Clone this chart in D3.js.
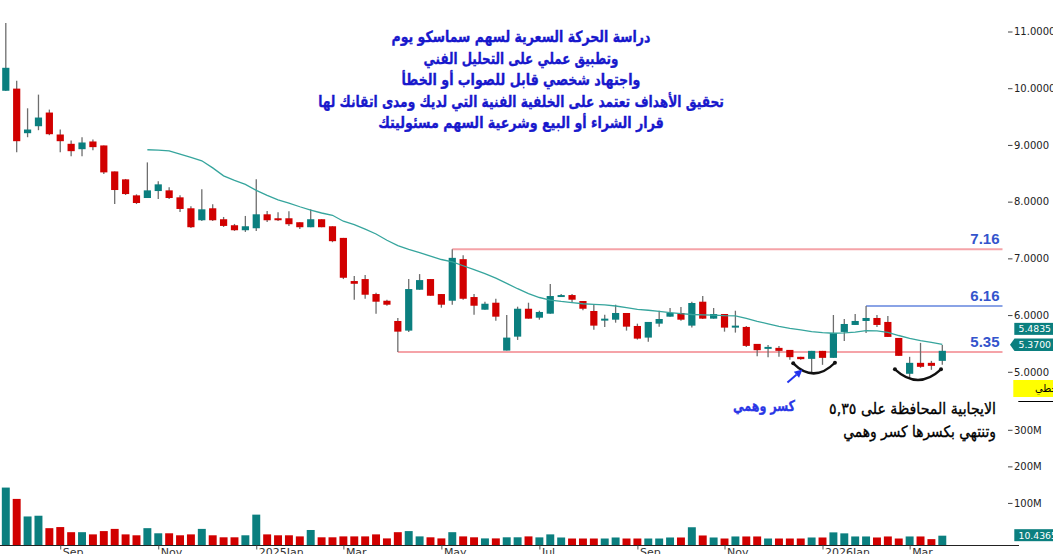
<!DOCTYPE html>
<html><head><meta charset="utf-8">
<script src="https://cdn.jsdelivr.net/npm/d3@7"></script>
<style>html,body{margin:0;padding:0;background:#fff;overflow:hidden}</style>
</head><body><svg id="c" width="1053" height="554"></svg>
<script>
// ---------- DATA ----------
const firstWeek = "2024-07-28";
const openP  = [9.955,9.993,9.207,9.330,9.571,9.184,9.020,8.925,9.061,8.991,8.533,8.393,8.111,8.064,8.187,8.199,8.076,7.883,7.672,7.883,7.690,7.584,7.496,7.531,7.777,7.707,7.707,7.637,7.549,7.690,7.566,7.361,6.600,6.635,6.371,6.253,5.896,5.726,6.447,6.635,6.371,6.253,6.986,6.318,6.095,6.218,5.374,5.620,6.112,5.954,6.025,6.318,6.353,6.248,6.072,5.902,5.919,6.037,5.808,5.603,5.849,5.972,6.037,5.814,6.236,5.937,6.019,5.779,5.791,5.492,5.404,5.422,5.386,5.264,5.228,5.369,5.246,5.703,5.826,5.896,5.949,5.879,5.597,4.965,5.158,5.158,5.193];
const highP  = [11.15,10.133,9.646,9.887,9.623,9.272,9.078,9.136,9.096,8.991,8.533,8.400,8.129,8.692,8.358,8.252,8.111,7.918,8.217,7.953,7.730,7.607,7.748,8.393,7.835,7.812,7.830,7.637,7.865,7.690,7.566,7.361,6.687,6.705,6.394,6.271,5.949,6.635,6.723,6.635,6.371,7.16,7.057,6.371,6.236,6.288,6.002,6.148,6.218,6.077,6.547,6.371,6.370,6.248,6.183,6.007,6.183,6.037,5.849,5.879,6.077,6.125,6.142,6.236,6.336,6.125,6.019,6.077,5.808,5.492,5.474,5.457,5.386,5.264,5.369,5.369,6.002,5.931,6.019,6.16,6.002,5.984,5.597,5.264,5.510,5.193,5.474];
const lowP   = [9.950,8.873,9.136,9.260,9.172,8.873,8.802,8.802,8.908,8.486,7.958,8.117,7.958,8.064,8.046,8.046,7.818,7.537,7.660,7.660,7.554,7.484,7.466,7.484,7.642,7.660,7.572,7.519,7.549,7.549,7.285,6.635,6.271,6.288,6.025,6.165,5.35,5.703,6.447,6.341,6.130,6.183,6.271,6.007,6.095,5.902,5.374,5.562,5.937,5.919,6.025,6.318,6.230,6.084,5.743,5.791,5.866,5.726,5.568,5.532,5.796,5.972,5.902,5.779,5.930,5.937,5.708,5.691,5.439,5.276,5.258,5.264,5.211,5.211,4.965,5.123,5.246,5.545,5.826,5.685,5.791,5.615,5.281,4.894,5.070,5.035,5.123];
const closeP = [10.36,9.066,9.272,9.483,9.189,9.066,8.890,9.043,8.961,8.516,8.205,8.134,7.976,8.199,8.305,8.064,7.871,7.549,7.865,7.672,7.572,7.496,7.566,7.777,7.672,7.672,7.602,7.549,7.690,7.549,7.303,6.658,6.552,6.359,6.236,6.183,5.708,6.459,6.617,6.341,6.183,7.009,6.288,6.165,6.200,5.972,5.603,6.112,5.937,6.055,6.336,6.353,6.271,6.112,5.814,5.937,6.037,5.796,5.585,5.879,5.931,6.037,5.919,6.213,5.937,6.019,5.779,5.814,5.457,5.381,5.439,5.369,5.258,5.223,5.369,5.246,5.685,5.843,5.896,5.949,5.826,5.615,5.281,5.158,5.088,5.105,5.37];
const volumeM = [142,111,63,65,31,34,20,20,14,23,29,14,11.5,31,17,17,11.5,14,29,11.5,6,6,11.5,68,14,11.5,11.5,8.5,26,6,6,8.5,8.5,8.5,14,3,20,23,8.5,6,3,20,8.5,6,3,3,6,6,8.5,5.8,14,5.5,2.7,2.7,2.7,2.7,5.5,2.7,2.7,2.7,2.7,5.5,5.5,33.5,11,5.5,2.7,8.3,8.3,8.3,2.7,2.7,2.7,2.7,5.5,5.5,19.5,16.8,8.3,8.3,5.5,8.3,2.7,8.3,8.3,1,10.4365];
const maValues = [null,null,null,null,null,null,null,null,null,null,null,null,null,
  8.915,8.91,8.895,8.84,8.78,8.72,8.595,8.455,8.375,8.305,8.20,8.11,8.03,7.975,7.91,7.85,7.80,7.76,7.655,7.595,7.515,7.43,7.32,7.225,7.16,7.10,7.04,6.98,6.94,6.87,6.80,6.73,6.65,6.56,6.465,6.38,6.31,6.265,6.24,6.22,6.20,6.19,6.18,6.16,6.13,6.10,6.085,6.065,6.045,6.025,6.01,6.005,6.00,5.99,5.985,5.94,5.89,5.845,5.80,5.765,5.74,5.71,5.69,5.68,5.685,5.70,5.725,5.72,5.695,5.64,5.59,5.55,5.52,5.4835];
const tickDates  = ["2024-09-01","2024-11-03","2025-01-05","2025-03-02","2025-05-04","2025-07-06","2025-09-07","2025-11-02","2026-01-04","2026-03-01"];
const tickLabels = ["Sep","Nov","2025Jan","Mar","May","Jul","Sep","Nov","2026Jan","Mar"];
const priceTicks = [5,6,7,8,9,10,11];
const volumeTicks = [100,200,300];
const levelValues = [7.16, 6.16, 5.35];
const levelStartIdx = [41, 79, 36];
const levelKinds = ["resistance","target","support"];
const titleLines = [
  "دراسة الحركة السعرية لسهم سماسكو يوم",
  "وتطبيق عملي على التحليل الفني",
  "واجتهاد شخصي قابل للصواب أو الخطأ",
  "تحقيق الأهداف تعتمد على الخلفية الفنية التي لديك ومدى اتقانك لها",
  "قرار الشراء أو البيع وشرعية السهم مسئوليتك"
];
const noteFalseBreak = "كسر وهمي";
const noteLines = ["الايجابية المحافظة على ٥,٣٥", "وتنتهي بكسرها كسر وهمي"];
const scaleModeText = "خطي";

// ---------- CHART ----------
const svg = d3.select("#c");
const parse = d3.utcParse("%Y-%m-%d"), fmt = d3.utcFormat("%Y-%m-%d");
const weeks = openP.map((_, i) => fmt(d3.utcDay.offset(parse(firstWeek), 7 * i)));
const bars = weeks.map((w, i) => ({w, o: openP[i], h: highP[i], l: lowP[i], c: closeP[i], v: volumeM[i], ma: maValues[i]}));

const x = d3.scalePoint().domain(weeks).range([5.8, 942.3]);
const step = x.step();
const xi = i => x(weeks[0]) + i * step;
const y = d3.scaleLinear().domain([5, 11]).range([371.8, 31.5]);
const yv = d3.scaleLinear().domain([0, 300]).range([539.5, 429.8]);
const volBase = 546;
const UP = "#0b7f7f", DOWN = "#d10000";
const FONT = "'DejaVu Sans', Verdana, sans-serif";
const AFONT = "'DejaVu Sans', sans-serif";

// level lines
const levelColor = {resistance: "#f5a3a8", target: "#8aa3e6", support: "#f5a3a8"};
const lv = svg.append("g");
levelValues.forEach((v, k) => {
  lv.append("line").attr("x1", xi(levelStartIdx[k])).attr("x2", 1002.5)
    .attr("y1", y(v)).attr("y2", y(v)).attr("stroke", levelColor[levelKinds[k]]).attr("stroke-width", 2);
  lv.append("text").attr("x", 999.5).attr("y", y(v) - 5).attr("text-anchor", "end")
    .attr("font-family", "'Liberation Sans', Arial, sans-serif").attr("font-weight", "bold")
    .attr("font-size", 15).attr("fill", "#3454cc").text(v.toFixed(2));
});

// volume
svg.append("g").selectAll("rect").data(bars).join("rect")
  .attr("x", d => x(d.w) - step * 0.365).attr("width", step * 0.73)
  .attr("y", d => yv(d.v)).attr("height", d => volBase - yv(d.v))
  .attr("fill", d => d.c >= d.o ? UP : DOWN);

// candles
const cg = svg.append("g");
cg.selectAll("line").data(bars).join("line")
  .attr("x1", d => x(d.w)).attr("x2", d => x(d.w))
  .attr("y1", d => y(d.h)).attr("y2", d => y(d.l))
  .attr("stroke", "#6e6e6e").attr("stroke-width", 1.3);
cg.selectAll("rect").data(bars).join("rect")
  .attr("x", d => x(d.w) - 3.6).attr("width", 7.2)
  .attr("y", d => y(Math.max(d.o, d.c)))
  .attr("height", d => Math.max(1.5, Math.abs(y(d.o) - y(d.c))))
  .attr("fill", d => d.c >= d.o ? UP : DOWN);

// moving average
svg.append("path").datum(bars)
  .attr("d", d3.line().defined(d => d.ma != null).x(d => x(d.w)).y(d => y(d.ma)))
  .attr("fill", "none").attr("stroke", "#36a59d").attr("stroke-width", 1.3);

// bottom axis
svg.append("line").attr("x1", 0).attr("x2", 1019).attr("y1", 545.5).attr("y2", 545.5)
  .attr("stroke", "#222").attr("stroke-width", 1);
const xa = svg.append("g").attr("transform", "translate(0,545.5)")
  .call(d3.axisBottom(x).tickValues(tickDates).tickFormat((d, i) => tickLabels[i]).tickSize(4));
xa.select(".domain").remove();
xa.selectAll("line").attr("stroke", "#555");
xa.selectAll("text").attr("text-anchor", "start").attr("x", 2).attr("y", 3).attr("dy", "0.71em")
  .attr("font-family", FONT).attr("font-size", 11).attr("fill", "#333");

// right price axis
const pa = svg.append("g").attr("transform", "translate(1008,0)")
  .call(d3.axisRight(y).tickValues(priceTicks).tickFormat(d3.format(".4f")).tickSize(4.5));
pa.select(".domain").remove();
pa.selectAll("line").attr("stroke", "#444");
pa.selectAll("text").attr("x", 6).attr("font-family", FONT).attr("font-size", 10).attr("fill", "#222");

const va = svg.append("g").attr("transform", "translate(1008,0)")
  .call(d3.axisRight(yv).tickValues(volumeTicks).tickFormat(d => d + "M").tickSize(4.5));
va.select(".domain").remove();
va.selectAll("line").attr("stroke", "#444");
va.selectAll("text").attr("x", 6).attr("font-family", FONT).attr("font-size", 10).attr("fill", "#222");

// value tags
const last = bars[bars.length - 1];
function tag(cy, text, arrow) {
  const g = svg.append("g");
  if (arrow) {
    g.append("path").attr("d", `M1010,${cy} L1014.5,${cy - 6.3} L1060,${cy - 6.3} L1060,${cy + 6.3} L1014.5,${cy + 6.3} Z`).attr("fill", UP);
  } else {
    g.append("rect").attr("x", 1014.3).attr("y", cy - 6).attr("width", 50).attr("height", 12).attr("fill", UP);
  }
  g.append("text").attr("x", 1018.5).attr("y", cy).attr("dy", "0.36em").attr("font-family", FONT)
    .attr("font-size", 9.3).attr("fill", "#fff").text(text);
}
tag(y(last.ma) - 15.5, last.ma.toFixed(4), false);
tag(y(last.c) - 6, last.c.toFixed(4), true);
tag(yv(last.v) - 0.5, last.v.toFixed(4) + "M", false);

// scale mode box
svg.append("rect").attr("x", 1013.3).attr("y", 380).attr("width", 45).attr("height", 17).attr("fill", "#ffff00");
svg.append("text").attr("x", 1035).attr("y", 388.5).attr("dy", "0.35em").attr("font-family", AFONT)
  .attr("font-size", 10).attr("fill", "#000").text(scaleModeText);
svg.append("line").attr("x1", 1018.3).attr("x2", 1053).attr("y1", 401.5).attr("y2", 401.5).attr("stroke", "#000");

// text helper: fixed height, horizontally scaled to the target width
function sText(cx, cy, anchor, str, fs, bold, color, targetW, sw) {
  const g = svg.append("g").attr("transform", `translate(${cx},${cy})`);
  const t = g.append("text").attr("text-anchor", anchor).attr("dy", "0.3em")
    .attr("font-family", AFONT).attr("font-weight", bold ? "bold" : "normal")
    .attr("font-size", fs).attr("fill", color).text(str);
  if (sw) t.attr("stroke", color).attr("stroke-width", sw);
  const w0 = t.node().getComputedTextLength();
  t.attr("transform", `scale(${targetW / w0},1)`);
}
const titleY = [37, 59, 80, 102, 123];
const titleW = [259, 195, 239, 406, 286];
titleLines.forEach((t, i) => sText(521, titleY[i], "middle", t, 15.5, true, "#1818cc", titleW[i], 0.35));

// annotations: arcs
const arcs = [
  {a: [72.31, 5.15], c: [74.21, 4.79], b: [76.14, 5.16]},
  {a: [81.65, 5.044], c: [83.77, 4.67], b: [85.88, 5.044]}
];
arcs.forEach(o => {
  svg.append("path")
    .attr("d", `M${xi(o.a[0])},${y(o.a[1])} Q${xi(o.c[0])},${y(o.c[1])} ${xi(o.b[0])},${y(o.b[1])}`)
    .attr("fill", "none").attr("stroke", "#111").attr("stroke-width", 2.4).attr("stroke-linecap", "round");
  [o.a, o.b].forEach(p => svg.append("circle").attr("cx", xi(p[0])).attr("cy", y(p[1])).attr("r", 2).attr("fill", "#111"));
});

// arrow
const tail = [xi(71.78), y(4.811)], tip = [xi(73.16), y(5.04)];
const dx = tip[0] - tail[0], dy = tip[1] - tail[1], L = Math.hypot(dx, dy);
const ux = dx / L, uy = dy / L, nx = -uy, ny = ux;
const bx = tip[0] - 8 * ux, by = tip[1] - 8 * uy;
svg.append("line").attr("x1", tail[0]).attr("y1", tail[1]).attr("x2", bx).attr("y2", by)
  .attr("stroke", "#2233ee").attr("stroke-width", 2);
svg.append("path").attr("d", `M${tip[0]},${tip[1]} L${bx + 4 * nx},${by + 4 * ny} L${bx - 4 * nx},${by - 4 * ny} Z`).attr("fill", "#2233ee");

sText(764, 406.5, "middle", noteFalseBreak, 15, true, "#2a36e6", 62, 0.3);
const noteY = [409.5, 432], noteW = [167, 153];
noteLines.forEach((t, i) => sText(996, noteY[i], "end", t, 15.5, false, "#000", noteW[i], 0.35));
</script></body></html>
